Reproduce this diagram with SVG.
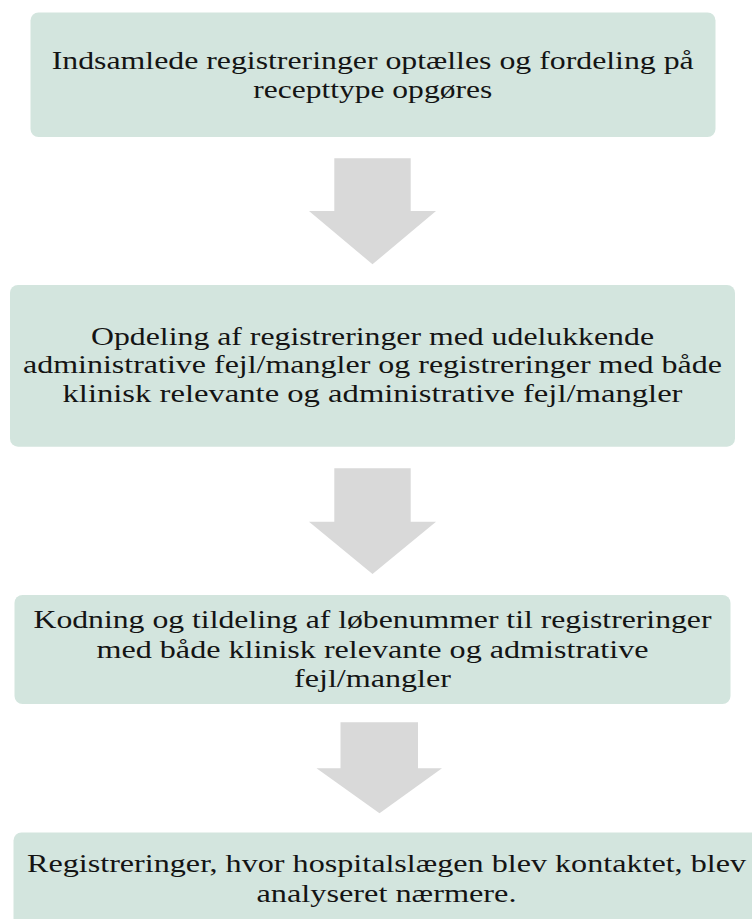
<svg xmlns="http://www.w3.org/2000/svg" width="752" height="919" viewBox="0 0 752 919">
<style>
.box{fill:#d3e5de;}
.arr{fill:#d9d9d9;}
text{font-family:"Liberation Serif","DejaVu Serif",serif;font-size:25.5px;fill:#141414;text-anchor:middle;}
</style>
<rect width="752" height="919" fill="#ffffff"/>
<g id="node1">
<rect class="box" x="30.5" y="12.5" width="685" height="124.5" rx="8"/>
<text x="372.7" y="69" textLength="642" lengthAdjust="spacingAndGlyphs">Indsamlede registreringer optælles og fordeling på</text>
<text x="372.7" y="97.5" textLength="239" lengthAdjust="spacingAndGlyphs">recepttype opgøres</text>
</g>
<g id="node2">
<rect class="box" x="10" y="285" width="725" height="161.7" rx="8"/>
<text x="372.5" y="345" textLength="563" lengthAdjust="spacingAndGlyphs">Opdeling af registreringer med udelukkende</text>
<text x="372.5" y="373.3" textLength="699" lengthAdjust="spacingAndGlyphs">administrative fejl/mangler og registreringer med både</text>
<text x="372.5" y="401.6" textLength="620" lengthAdjust="spacingAndGlyphs">klinisk relevante og administrative fejl/mangler</text>
</g>
<g id="node3">
<rect class="box" x="14.5" y="595" width="716" height="109" rx="8"/>
<text x="372.5" y="628.3" textLength="678" lengthAdjust="spacingAndGlyphs">Kodning og tildeling af løbenummer til registreringer</text>
<text x="372.5" y="658" textLength="552" lengthAdjust="spacingAndGlyphs">med både klinisk relevante og admistrative</text>
<text x="372.5" y="686.7" textLength="157" lengthAdjust="spacingAndGlyphs">fejl/mangler</text>
</g>
<g id="node4">
<rect class="box" x="13.5" y="832.5" width="746" height="96" rx="8"/>
<text x="386.5" y="871.7" textLength="719" lengthAdjust="spacingAndGlyphs">Registreringer, hvor hospitalslægen blev kontaktet, blev</text>
<text x="386.5" y="901.7" textLength="260" lengthAdjust="spacingAndGlyphs">analyseret nærmere.</text>
</g>
<g id="connectors">
<polygon class="arr" points="334.3,158.3 410.7,158.3 410.7,211 436,211 372.5,264.3 309,211 334.3,211"/>
<polygon class="arr" points="334.3,468.3 410.7,468.3 410.7,521.7 436,521.7 372.5,574 309,521.7 334.3,521.7"/>
<polygon class="arr" points="340.5,722.3 418,722.3 418,768.3 442,768.3 379.5,813.3 316.5,768.3 340.5,768.3"/>
</g>
</svg>
